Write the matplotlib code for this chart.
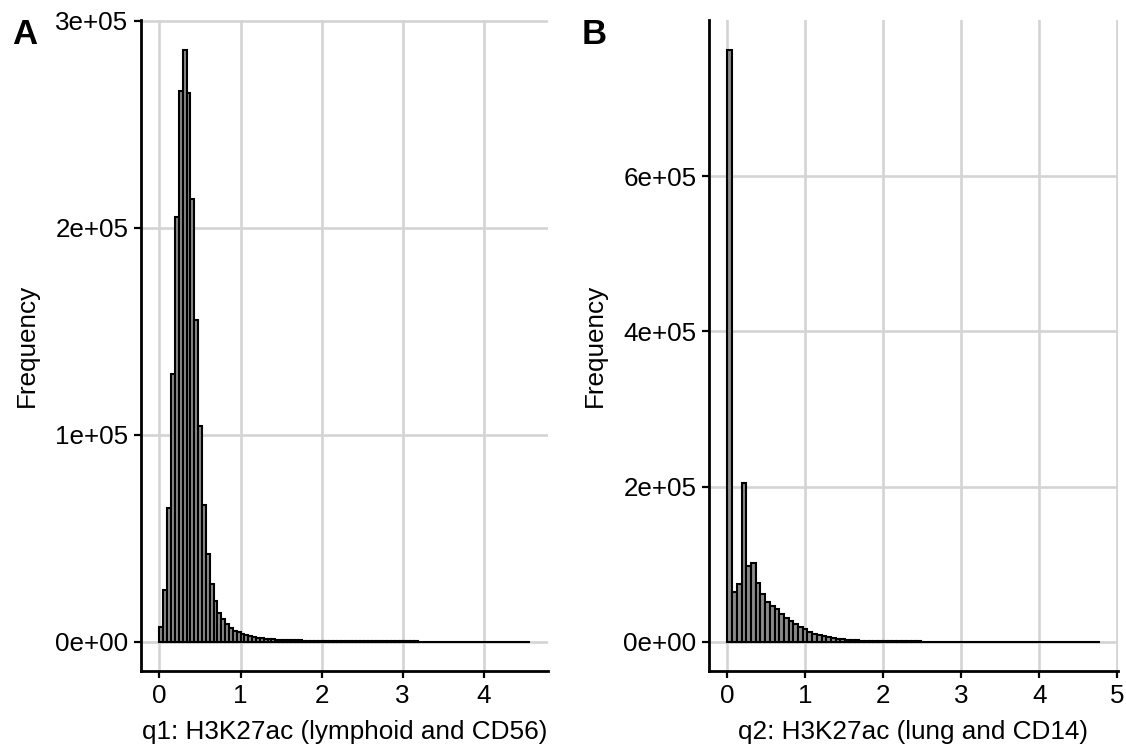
import numpy as np
import matplotlib
matplotlib.use("Agg")
import matplotlib.pyplot as plt

plt.rcParams['font.family'] = ['Liberation Sans', 'DejaVu Sans']

# histogram counts per bin, bins start at 0
q1_width = 0.0476
q1_counts = [7000, 25000, 64500, 129500, 205000, 266000, 286000, 265000, 214000, 155500,
             104000, 66000, 42500, 28000,
             19500, 14000, 10800, 8600, 6600, 5300, 4500, 3700, 3200, 2700, 2400, 2000, 1700,
             1500, 1330, 1180, 1060, 950, 860, 780, 710, 650, 600, 555, 515, 480, 450,
             420, 395, 370, 348, 328, 310, 293, 277, 262, 248, 235, 222, 210, 199, 189,
             180, 171, 163, 155, 148,
             141, 135, 129, 123, 118, 113, 108, 103, 99, 95, 91, 87, 83, 80, 77, 74, 71,
             68, 65, 62, 60, 57, 55, 53, 51, 49, 47, 45, 43, 41, 39, 37, 35, 33, 31]

q2_width = 0.0604
q2_counts = [763000, 64000, 75000, 204000, 98000, 101000, 76000, 61000, 51000, 46000,
             42000, 36000, 31000, 27000, 23000, 18500, 16000,
             13000, 10500, 8500, 7000, 5800, 4800, 3900, 3200, 2600, 2150, 1800, 1500,
             1250, 1050,
             900, 780, 680, 600, 530, 470, 420, 380, 340, 310, 280, 255, 235, 215, 198,
             182, 168, 155, 143, 132,
             122, 113, 105, 97, 90, 84, 78, 72, 67, 62, 58, 54, 50, 47, 44, 41, 38, 35,
             33, 31, 29, 27, 25, 23, 21, 19, 17, 15]

q1_xticks = [0, 1, 2, 3, 4]
q1_yticks = [0, 100000, 200000, 300000]
q2_xticks = [0, 1, 2, 3, 4, 5]
q2_yticks = [0, 200000, 400000, 600000]

q1_label = "q1: H3K27ac (lymphoid and CD56)"
q2_label = "q2: H3K27ac (lung and CD14)"

fig = plt.figure(figsize=(11.26, 7.47), dpi=100)
axA = fig.add_axes([0.1252, 0.1013, 0.3619, 0.8719])
axB = fig.add_axes([0.6295, 0.1013, 0.3635, 0.8719])


def draw_hist(ax, counts, width, xticks, yticks, xlabel):
    counts = np.array(counts, dtype=float)
    left = np.arange(len(counts)) * width
    ax.bar(left, counts, width=width, align='edge', color='#8a8a8a',
           edgecolor='black', linewidth=1.5, zorder=3)
    xmax = len(counts) * width
    ymax = counts.max()
    ax.set_xlim(-0.05 * xmax, 1.05 * xmax)
    ax.set_ylim(-0.05 * ymax, 1.05 * ymax)
    ax.set_xticks(xticks)
    ax.set_yticks(yticks)
    ax.set_yticklabels(["%.0e" % v for v in yticks])
    ax.grid(True, color='#d4d4d4', linewidth=1.9, zorder=0)
    for s in ['top', 'right']:
        ax.spines[s].set_visible(False)
    for s in ['left', 'bottom']:
        ax.spines[s].set_linewidth(2.0)
    ax.tick_params(direction='out', length=5, width=1.6, labelsize=18.7, pad=4)
    ax.set_xlabel(xlabel, fontsize=18.8, labelpad=9)
    ax.set_ylabel("Frequency", fontsize=18.8, labelpad=12)


draw_hist(axA, q1_counts, q1_width, q1_xticks, q1_yticks, q1_label)
draw_hist(axB, q2_counts, q2_width, q2_xticks, q2_yticks, q2_label)

fig.text(12 / 1126, 1 - 18 / 747, "A", fontsize=25, fontweight='bold', va='top', ha='left')
fig.text(582 / 1126, 1 - 18 / 747, "B", fontsize=25, fontweight='bold', va='top', ha='left')

fig.savefig("out.png", dpi=100)
